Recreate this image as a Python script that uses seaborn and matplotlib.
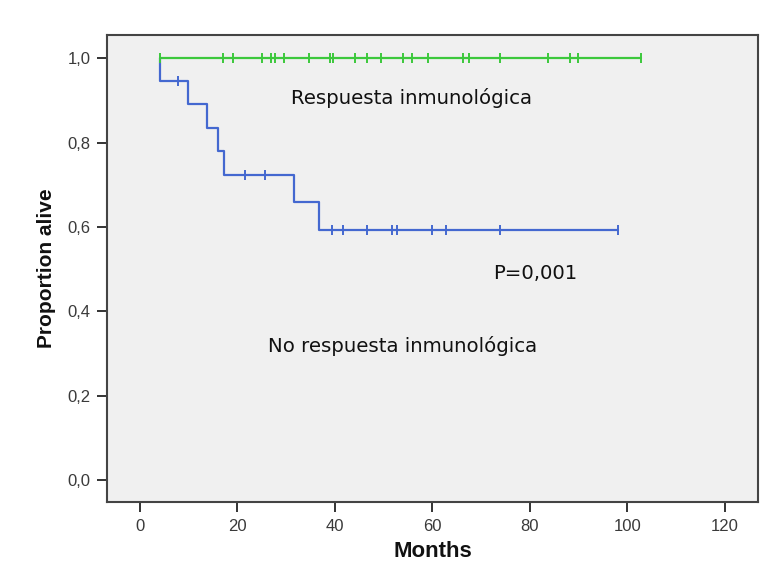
import numpy as np
import pandas as pd
import matplotlib
matplotlib.use("Agg")
import matplotlib.pyplot as plt
import seaborn as sns

# Follow-up data (months)
# Group without immune response: deaths and censored follow-ups
no_resp_events = [4.1, 9.85, 13.7, 16.0, 17.2, 31.6, 36.7]
no_resp_censored = [7.8, 21.5, 25.6, 39.4, 41.6, 46.6, 51.7, 52.7, 59.9, 62.8, 73.8, 98.1]
# Group with immune response: no deaths, all censored
resp_events = []
resp_censored = [4.2, 17.1, 19.1, 25.0, 26.8, 27.6, 29.6, 34.7, 39.0, 39.7, 44.2,
                 46.6, 49.4, 54.0, 55.9, 59.1, 66.3, 67.5, 73.8, 83.8, 88.2, 89.8, 102.7]

x_ticks = [0, 20, 40, 60, 80, 100, 120]
y_ticks = [0.0, 0.2, 0.4, 0.6, 0.8, 1.0]

GREEN = "#3cc83c"
BLUE = "#4468d0"


def kaplan_meier(events, censored):
    """Return step curve (time, survival) and censor marks for a group."""
    times = sorted([(t, 1) for t in events] + [(t, 0) for t in censored])
    n = len(times)
    s = 1.0
    curve_t = [times[0][0]]
    curve_s = [1.0]
    marks_t, marks_s = [], []
    for t, d in times:
        if d == 1:
            s *= (n - 1) / n
            curve_t.append(t)
            curve_s.append(s)
        else:
            marks_t.append(t)
            marks_s.append(s)
        n -= 1
    curve_t.append(times[-1][0])
    curve_s.append(s)
    return (pd.DataFrame({"t": curve_t, "s": curve_s}),
            pd.DataFrame({"t": marks_t, "s": marks_s}))


sns.set_style("white")
plt.rcParams["font.family"] = ["Liberation Sans", "DejaVu Sans"]

fig = plt.figure(figsize=(7.67, 5.71), dpi=100)
fig.patch.set_facecolor("white")
ax = fig.add_axes([0.1395, 0.1208, 0.8488, 0.8179])
ax.set_facecolor("#f0f0f0")

for events, censored, color in [(resp_events, resp_censored, GREEN),
                                (no_resp_events, no_resp_censored, BLUE)]:
    curve, marks = kaplan_meier(events, censored)
    sns.lineplot(data=curve, x="t", y="s", drawstyle="steps-post", color=color,
                 linewidth=1.6, ax=ax, estimator=None, sort=False)
    sns.scatterplot(data=marks, x="t", y="s", marker="|", s=45, color=color,
                    linewidth=1.4, ax=ax, zorder=4)

ax.set_xlim(-6.77, 126.8)
ax.set_ylim(-0.052, 1.0557)
ax.set_xticks(x_ticks)
ax.set_xticklabels([str(v) for v in x_ticks])
ax.set_yticks(y_ticks)
ax.set_yticklabels([f"{v:.1f}".replace(".", ",") for v in y_ticks])
ax.tick_params(axis="both", direction="out", length=7, width=1.4, color="#333333",
               labelsize=12, labelcolor="#3a3a3a", left=True, bottom=True, pad=5)

for sp in ax.spines.values():
    sp.set_visible(True)
    sp.set_color("#444444")
    sp.set_linewidth(1.5)

ax.set_xlabel("Months", fontsize=16, fontweight="bold", color="#111111", labelpad=5)
ax.set_ylabel("Proportion alive", fontsize=15, fontweight="bold", color="#111111",
              labelpad=8)

ax.text(31.0, 0.906, "Respuesta inmunológica", fontsize=14.2, va="center",
        ha="left", family=["DejaVu Sans"], color="#111111")
ax.text(72.4, 0.489, "P=0,001", fontsize=14.2, va="center", ha="left",
        family=["DejaVu Sans"], color="#111111")
ax.text(26.3, 0.318, "No respuesta inmunológica", fontsize=14.2, va="center",
        ha="left", family=["DejaVu Sans"], color="#111111")

fig.savefig("out.png", dpi=100)
